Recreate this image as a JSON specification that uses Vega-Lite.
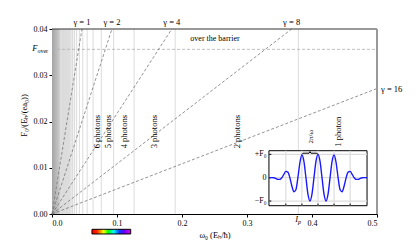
{
  "$schema": "https://vega.github.io/schema/vega-lite/v6.json",
  "width": 325,
  "height": 185,
  "autosize": {"type": "none"},
  "padding": {"left": 52, "top": 29, "right": 43, "bottom": 26},
  "background": "white",
  "config": {
    "font": "Liberation Serif",
    "view": {"stroke": null},
    "axis": {
      "labelFont": "Liberation Serif", "labelFontSize": 8, "labelColor": "#000",
      "titleFont": "Liberation Serif", "titleFontSize": 8.5, "titleFontWeight": "normal", "titleColor": "#000",
      "tickColor": "#000", "tickSize": 3, "domainColor": "#000", "grid": false
    },
    "text": {"font": "Liberation Serif", "color": "#000"}
  },
  "datasets": {
    "photons": [
      {"n": 1, "omega": 0.379}, {"n": 2, "omega": 0.1895}, {"n": 3, "omega": 0.1263}, {"n": 4, "omega": 0.0948},
      {"n": 5, "omega": 0.0758}, {"n": 6, "omega": 0.0632}, {"n": 7, "omega": 0.0541}, {"n": 8, "omega": 0.0474},
      {"n": 9, "omega": 0.0421}, {"n": 10, "omega": 0.0379}, {"n": 11, "omega": 0.0345}, {"n": 12, "omega": 0.0316},
      {"n": 13, "omega": 0.0292}, {"n": 14, "omega": 0.0271}, {"n": 15, "omega": 0.0253}, {"n": 16, "omega": 0.0237},
      {"n": 17, "omega": 0.0223}, {"n": 18, "omega": 0.0211}, {"n": 19, "omega": 0.0199}, {"n": 20, "omega": 0.019},
      {"n": 21, "omega": 0.018}, {"n": 22, "omega": 0.0172}, {"n": 23, "omega": 0.0165}, {"n": 24, "omega": 0.0158},
      {"n": 25, "omega": 0.0152}, {"n": 26, "omega": 0.0146}, {"n": 27, "omega": 0.014}, {"n": 28, "omega": 0.0135},
      {"n": 29, "omega": 0.0131}, {"n": 30, "omega": 0.0126}
    ],
    "photonLabels": [
      {"label": "1 photon", "omega": 0.4402},
      {"label": "2 photons", "omega": 0.2842},
      {"label": "3 photons", "omega": 0.1576},
      {"label": "4 photons", "omega": 0.1107},
      {"label": "5 photons", "omega": 0.0855},
      {"label": "6 photons", "omega": 0.0699}
    ],
    "gamma": [
      {"gamma": 1, "label": "γ = 1", "omega_start": 0, "F_start": 0, "omega_end": 0.0461, "F_end": 0.04},
      {"gamma": 2, "label": "γ = 2", "omega_start": 0, "F_start": 0, "omega_end": 0.0922, "F_end": 0.04},
      {"gamma": 4, "label": "γ = 4", "omega_start": 0, "F_start": 0, "omega_end": 0.1843, "F_end": 0.04},
      {"gamma": 8, "label": "γ = 8", "omega_start": 0, "F_start": 0, "omega_end": 0.3687, "F_end": 0.04},
      {"gamma": 16, "label": "γ = 16", "omega_start": 0, "F_start": 0, "omega_end": 0.5, "F_end": 0.02713}
    ],
    "wave": [
      {"t": -3.05, "E": 0}, {"t": -3.0, "E": 0}, {"t": -2.875, "E": 0.005}, {"t": -2.75, "E": 0},
      {"t": -2.625, "E": -0.032}, {"t": -2.5, "E": -0.07}, {"t": -2.375, "E": -0.071}, {"t": -2.25, "E": 0},
      {"t": -2.125, "E": 0.141}, {"t": -2.0, "E": 0.27}, {"t": -1.875, "E": 0.24}, {"t": -1.75, "E": 0},
      {"t": -1.625, "E": -0.354}, {"t": -1.5, "E": -0.6}, {"t": -1.375, "E": -0.516}, {"t": -1.25, "E": 0},
      {"t": -1.125, "E": 0.65}, {"t": -1.0, "E": 0.97}, {"t": -0.875, "E": 0.7}, {"t": -0.75, "E": 0},
      {"t": -0.625, "E": -0.707}, {"t": -0.5, "E": -1}, {"t": -0.375, "E": -0.707}, {"t": -0.25, "E": 0},
      {"t": -0.125, "E": 0.707}, {"t": 0, "E": 1}, {"t": 0.125, "E": 0.707}, {"t": 0.25, "E": 0},
      {"t": 0.375, "E": -0.707}, {"t": 0.5, "E": -1}, {"t": 0.625, "E": -0.707}, {"t": 0.75, "E": 0},
      {"t": 0.875, "E": 0.7}, {"t": 1.0, "E": 0.97}, {"t": 1.125, "E": 0.65}, {"t": 1.25, "E": 0},
      {"t": 1.375, "E": -0.516}, {"t": 1.5, "E": -0.6}, {"t": 1.625, "E": -0.354}, {"t": 1.75, "E": 0},
      {"t": 1.875, "E": 0.24}, {"t": 2.0, "E": 0.27}, {"t": 2.125, "E": 0.141}, {"t": 2.25, "E": 0},
      {"t": 2.375, "E": -0.071}, {"t": 2.5, "E": -0.07}, {"t": 2.625, "E": -0.032}, {"t": 2.75, "E": 0},
      {"t": 2.875, "E": 0.005}, {"t": 3.0, "E": 0}, {"t": 3.05, "E": 0}
    ],
    "brace": [
      {"t": -1.0, "E": 1.0}, {"t": -0.93, "E": 1.05}, {"t": -0.56, "E": 1.05}, {"t": -0.5, "E": 1.12},
      {"t": -0.44, "E": 1.05}, {"t": -0.07, "E": 1.05}, {"t": 0.0, "E": 1.0}
    ],
    "insetGridX": [{"t": -2, "y0": -1.2, "y1": 1.156, "yt": -1.11}, {"t": -1, "y0": -1.2, "y1": 1.156, "yt": -1.11}, {"t": 0, "y0": -1.2, "y1": 1.156, "yt": -1.11}, {"t": 1, "y0": -1.2, "y1": 1.156, "yt": -1.11}, {"t": 2, "y0": -1.2, "y1": 1.156, "yt": -1.11}],
    "insetGridY": [{"E": -1, "label": "−F₀", "x0": -3.05, "x1": 3.05, "xt": -2.9, "xl": -3.2}, {"E": 0, "label": "0", "x0": -3.05, "x1": 3.05, "xt": -2.9, "xl": -3.2}, {"E": 1, "label": "+F₀", "x0": -3.05, "x1": 3.05, "xt": -2.9, "xl": -3.2}],
    "insetFrame": [{"t0": -3.05, "t1": 3.05, "E0": -1.2, "E1": 1.156}],
    "period": [{"label": "2π/ω", "t": -0.42, "E": 1.76}]
  },
  "layer": [
    {
      "layer": [
        {
          "data": {"values": [{}]},
          "mark": {"type": "rect", "fill": {"gradient": "linear", "x1": 0, "y1": 0, "x2": 1, "y2": 0,
            "stops": [{"offset": 0, "color": "#a4a4a4"}, {"offset": 0.35, "color": "#d2d2d2"}, {"offset": 0.7, "color": "#eeeeee"}, {"offset": 1, "color": "#ffffff"}]}},
          "encoding": {
            "x": {"datum": 0, "type": "quantitative", "scale": {"domain": [0, 0.5], "nice": false, "zero": false},
              "axis": {"values": [0, 0.1, 0.2, 0.3, 0.4, 0.5], "format": ".1f", "title": "ω₀ (Eₕ/ħ)", "labelPadding": 2, "titleY": 20, "titleBaseline": "middle"}},
            "x2": {"datum": 0.04},
            "y": {"datum": 0, "type": "quantitative", "scale": {"domain": [0, 0.04], "nice": false, "zero": false},
              "axis": {"values": [0, 0.01, 0.02, 0.03, 0.04], "format": ".2f", "title": "F₀/(Eₕ/(ea₀))", "labelPadding": 2, "titleX": -29, "titleY": 86, "titleBaseline": "middle", "titleAlign": "center"}},
            "y2": {"datum": 0.04}
          }
        },
        {
          "data": {"name": "photons"},
          "mark": {"type": "rule", "color": "#dcdcdc", "strokeWidth": 1},
          "encoding": {
            "x": {"field": "omega", "type": "quantitative"},
            "y": {"datum": 0, "type": "quantitative"},
            "y2": {"datum": 0.04}
          }
        },
        {
          "data": {"values": [{}]},
          "mark": {"type": "rule", "color": "#b0b0b0", "strokeWidth": 0.8, "strokeDash": [3, 2]},
          "encoding": {
            "x": {"datum": 0, "type": "quantitative"},
            "x2": {"datum": 0.5},
            "y": {"datum": 0.0356, "type": "quantitative"}
          }
        },
        {
          "data": {"name": "gamma"},
          "mark": {"type": "rule", "color": "#777777", "strokeWidth": 0.8, "strokeDash": [3, 2]},
          "encoding": {
            "x": {"field": "omega_start", "type": "quantitative"},
            "y": {"field": "F_start", "type": "quantitative"},
            "x2": {"field": "omega_end"},
            "y2": {"field": "F_end"}
          }
        },
        {
          "data": {"values": [{}]},
          "mark": {"type": "rule", "color": "#333333", "strokeWidth": 1.2},
          "encoding": {
            "x": {"datum": 0, "type": "quantitative"},
            "x2": {"datum": 0.5},
            "y": {"datum": 0.04, "type": "quantitative"}
          }
        },
        {
          "data": {"values": [{}]},
          "mark": {"type": "rule", "color": "#999999", "strokeWidth": 2},
          "encoding": {
            "x": {"datum": 0.5, "type": "quantitative"},
            "y": {"datum": 0, "type": "quantitative"},
            "y2": {"datum": 0.04}
          }
        },
        {
          "data": {"name": "gamma"},
          "transform": [{"filter": "datum.gamma < 16"}],
          "mark": {"type": "text", "fontSize": 8.5, "baseline": "bottom", "align": "center", "dy": -2},
          "encoding": {
            "x": {"field": "omega_end", "type": "quantitative"},
            "y": {"field": "F_end", "type": "quantitative"},
            "text": {"field": "label"}
          }
        },
        {
          "data": {"name": "gamma"},
          "transform": [{"filter": "datum.gamma == 16"}],
          "mark": {"type": "text", "fontSize": 8.5, "baseline": "middle", "align": "left", "dx": 4},
          "encoding": {
            "x": {"field": "omega_end", "type": "quantitative"},
            "y": {"field": "F_end", "type": "quantitative"},
            "text": {"field": "label"}
          }
        },
        {
          "data": {"name": "photonLabels"},
          "mark": {"type": "text", "fontSize": 8.5, "angle": 270, "align": "center", "baseline": "middle"},
          "encoding": {
            "x": {"field": "omega", "type": "quantitative"},
            "y": {"datum": 0.0178, "type": "quantitative"},
            "text": {"field": "label"}
          }
        },
        {
          "data": {"values": [{"label": "over the barrier"}]},
          "mark": {"type": "text", "fontSize": 8, "align": "center", "baseline": "middle"},
          "encoding": {
            "x": {"datum": 0.2508, "type": "quantitative"},
            "y": {"datum": 0.03777, "type": "quantitative"},
            "text": {"field": "label"}
          }
        },
        {
          "data": {"values": [{"label": "F"}]},
          "mark": {"type": "text", "fontSize": 8.5, "fontStyle": "italic", "align": "right", "baseline": "middle"},
          "encoding": {
            "x": {"datum": -0.0223, "type": "quantitative"},
            "y": {"datum": 0.0359, "type": "quantitative"},
            "text": {"field": "label"}
          }
        },
        {
          "data": {"values": [{"label": "over"}]},
          "mark": {"type": "text", "fontSize": 6, "align": "left", "baseline": "middle"},
          "encoding": {
            "x": {"datum": -0.0225, "type": "quantitative"},
            "y": {"datum": 0.03535, "type": "quantitative"},
            "text": {"field": "label"}
          }
        },
        {
          "data": {"values": [{"label": "I"}]},
          "mark": {"type": "text", "fontSize": 8.5, "fontStyle": "italic", "align": "right", "baseline": "middle"},
          "encoding": {
            "x": {"datum": 0.3785, "type": "quantitative"},
            "y": {"datum": -0.0011, "type": "quantitative"},
            "text": {"field": "label"}
          }
        },
        {
          "data": {"values": [{"label": "p"}]},
          "mark": {"type": "text", "fontSize": 6, "fontStyle": "italic", "align": "left", "baseline": "middle"},
          "encoding": {
            "x": {"datum": 0.3785, "type": "quantitative"},
            "y": {"datum": -0.00165, "type": "quantitative"},
            "text": {"field": "label"}
          }
        },
        {
          "data": {"values": [{}]},
          "mark": {"type": "rect", "stroke": "#000", "strokeWidth": 1,
            "fill": {"gradient": "linear", "x1": 0, "y1": 0, "x2": 1, "y2": 0,
              "stops": [{"offset": 0, "color": "#ff0000"}, {"offset": 0.12, "color": "#ff2000"}, {"offset": 0.22, "color": "#ff9900"},
                {"offset": 0.3, "color": "#ffff00"}, {"offset": 0.42, "color": "#00ff00"}, {"offset": 0.56, "color": "#00ffff"},
                {"offset": 0.7, "color": "#0040ff"}, {"offset": 0.82, "color": "#6000ff"}, {"offset": 1, "color": "#e000e0"}]}},
          "encoding": {
            "x": {"datum": 0.0615, "type": "quantitative"},
            "x2": {"datum": 0.1211},
            "y": {"datum": -0.00331, "type": "quantitative"},
            "y2": {"datum": -0.00432}
          }
        }
      ]
    },
    {
      "layer": [
        {
          "data": {"name": "insetFrame"},
          "mark": {"type": "rect", "fill": "white", "stroke": "#000", "strokeWidth": 1},
          "encoding": {
            "x": {"field": "t0", "type": "quantitative", "scale": {"domain": [-16.54, 3.669], "nice": false, "zero": false}, "axis": null},
            "x2": {"field": "t1"},
            "y": {"field": "E0", "type": "quantitative", "scale": {"domain": [-1.555, 6.37], "nice": false, "zero": false}, "axis": null},
            "y2": {"field": "E1"}
          }
        },
        {
          "data": {"name": "insetGridX"},
          "mark": {"type": "rule", "color": "#dddddd", "strokeWidth": 1.2},
          "encoding": {
            "x": {"field": "t", "type": "quantitative"},
            "y": {"field": "y0", "type": "quantitative"},
            "y2": {"field": "y1"}
          }
        },
        {
          "data": {"name": "insetGridY"},
          "mark": {"type": "rule", "color": "#dddddd", "strokeWidth": 1.2},
          "encoding": {
            "x": {"field": "x0", "type": "quantitative"},
            "x2": {"field": "x1"},
            "y": {"field": "E", "type": "quantitative"}
          }
        },
        {
          "data": {"name": "insetGridX"},
          "mark": {"type": "rule", "color": "#000", "strokeWidth": 1},
          "encoding": {
            "x": {"field": "t", "type": "quantitative"},
            "y": {"field": "y0", "type": "quantitative"},
            "y2": {"field": "yt"}
          }
        },
        {
          "data": {"name": "insetGridY"},
          "mark": {"type": "rule", "color": "#000", "strokeWidth": 1},
          "encoding": {
            "x": {"field": "x0", "type": "quantitative"},
            "x2": {"field": "xt"},
            "y": {"field": "E", "type": "quantitative"}
          }
        },
        {
          "data": {"name": "wave"},
          "mark": {"type": "line", "color": "#1a1aff", "strokeWidth": 1.4, "interpolate": "monotone"},
          "encoding": {
            "x": {"field": "t", "type": "quantitative"},
            "y": {"field": "E", "type": "quantitative"}
          }
        },
        {
          "data": {"name": "brace"},
          "mark": {"type": "line", "color": "#000", "strokeWidth": 1},
          "encoding": {
            "x": {"field": "t", "type": "quantitative"},
            "y": {"field": "E", "type": "quantitative"}
          }
        },
        {
          "data": {"name": "insetGridY"},
          "mark": {"type": "text", "fontSize": 8, "align": "right", "baseline": "middle"},
          "encoding": {
            "x": {"field": "xl", "type": "quantitative"},
            "y": {"field": "E", "type": "quantitative"},
            "text": {"field": "label"}
          }
        },
        {
          "data": {"name": "period"},
          "mark": {"type": "text", "fontSize": 7, "angle": 270, "align": "center", "baseline": "middle"},
          "encoding": {
            "x": {"field": "t", "type": "quantitative"},
            "y": {"field": "E", "type": "quantitative"},
            "text": {"field": "label"}
          }
        }
      ]
    }
  ],
  "resolve": {"scale": {"x": "independent", "y": "independent"}}
}
